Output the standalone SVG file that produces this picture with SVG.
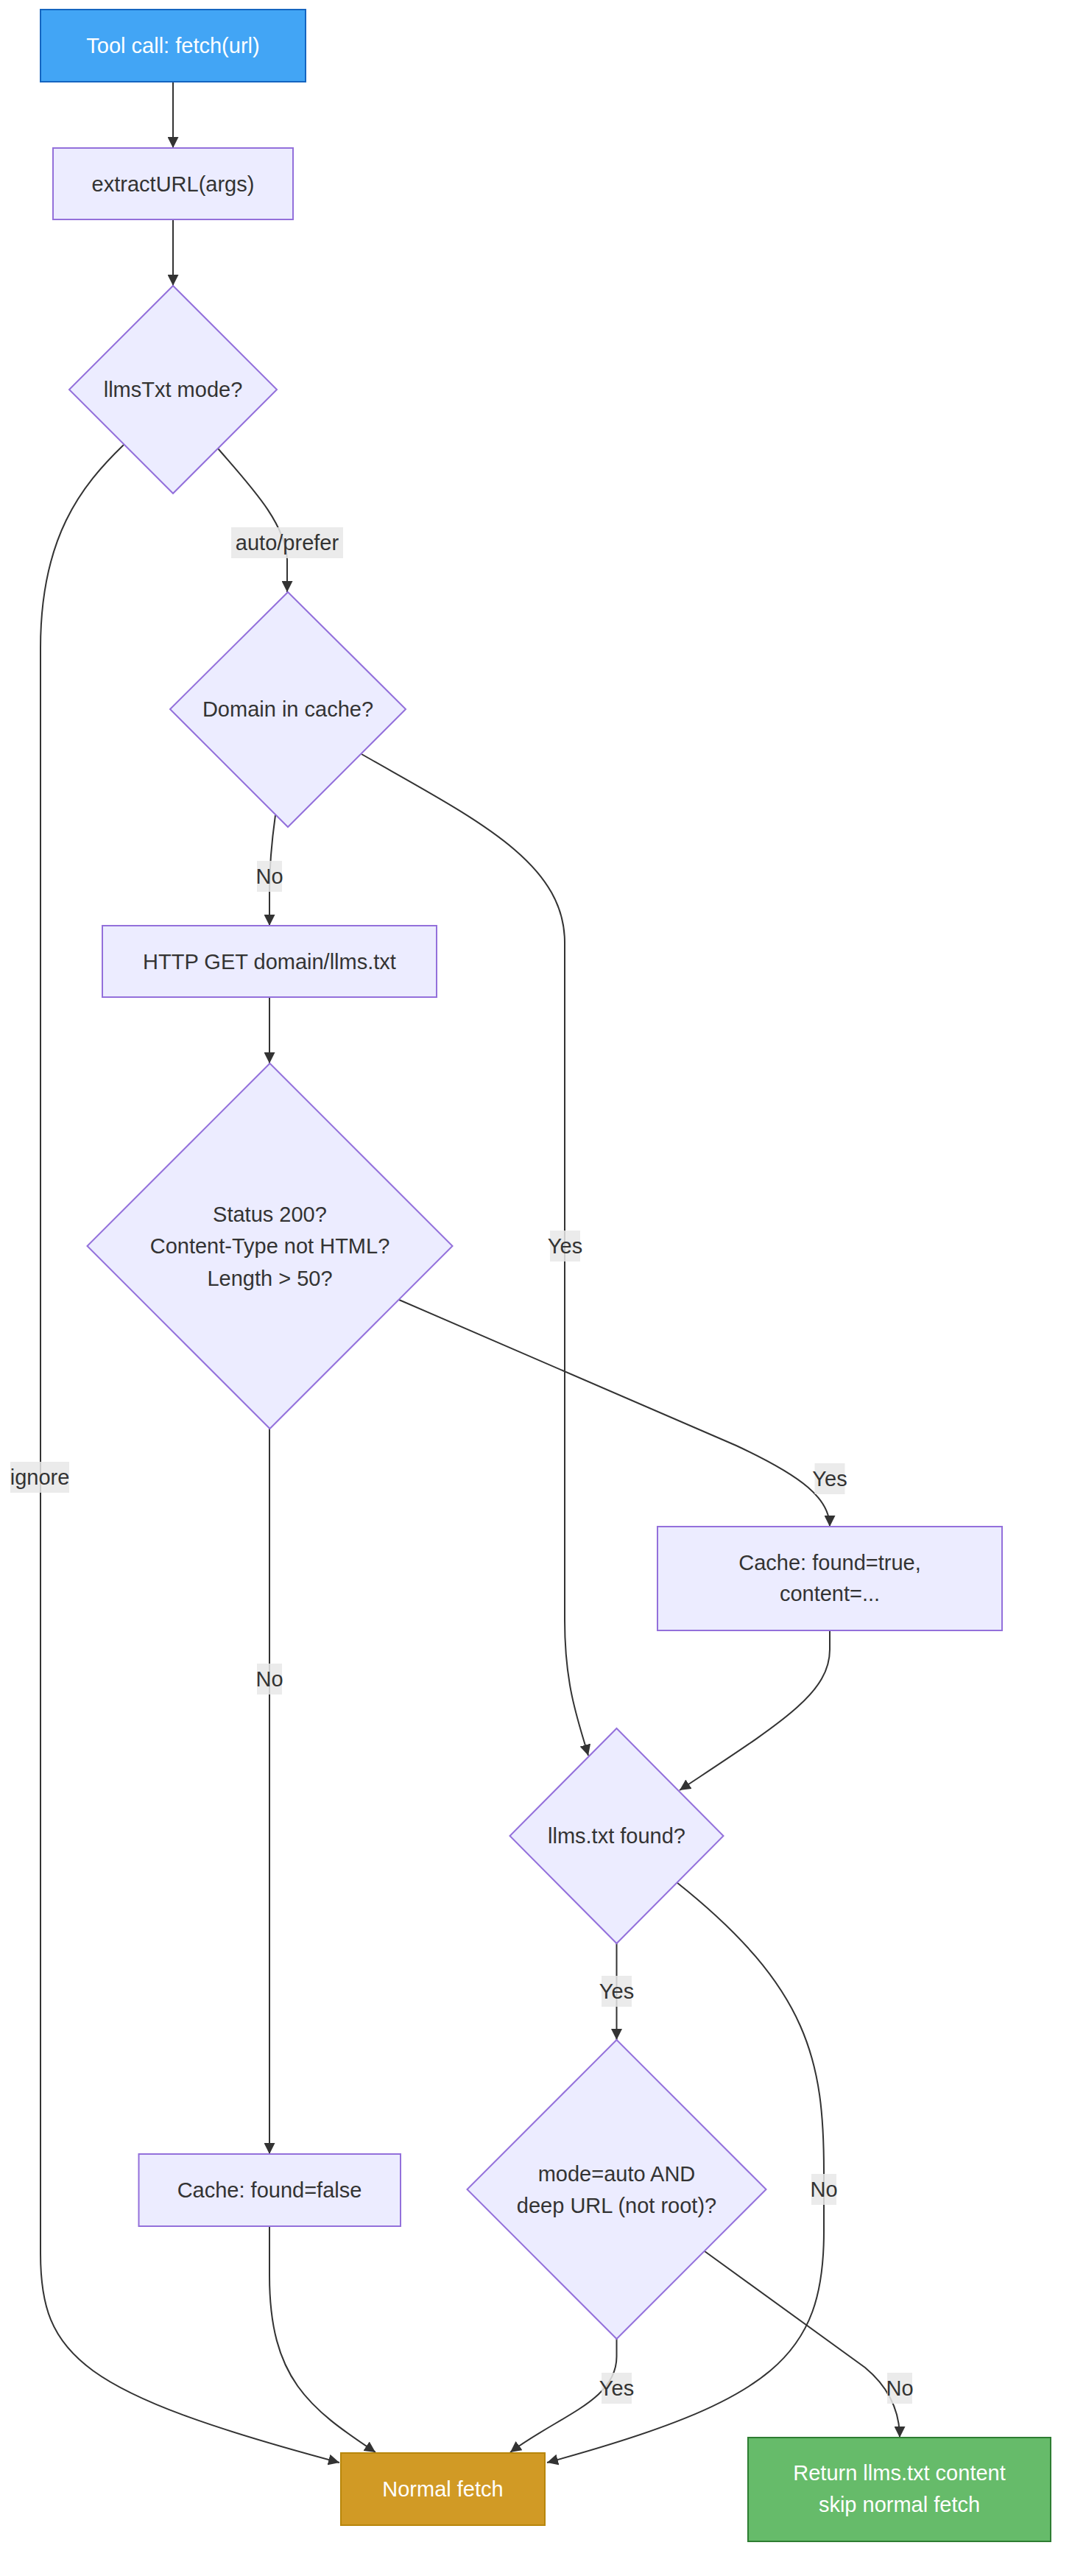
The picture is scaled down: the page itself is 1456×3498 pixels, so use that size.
<svg xmlns="http://www.w3.org/2000/svg" width="1456" height="3498" viewBox="0 0 1456 3498">
<style>
.node{fill:#ECECFF;stroke:#9370DB;stroke-width:2}
.t{font-family:"Liberation Sans",Arial,sans-serif;font-size:29px;fill:#333;text-anchor:middle}
.w{fill:#fff}
.edge{fill:none;stroke:#333;stroke-width:2;marker-end:url(#arrow)}
.lbl{fill:#E8E8E8;fill-opacity:0.85}
</style>
<defs>
<marker id="arrow" viewBox="0 0 10 10" refX="10" refY="5" markerUnits="userSpaceOnUse" markerWidth="15" markerHeight="15" orient="auto"><path d="M0,0 L10,5 L0,10 z" fill="#333"/></marker>
</defs>
<rect width="1456" height="3498" fill="#fff"/>
<g id="connectors">
<path class="edge" d="M235,111 L235,201"/>
<path class="edge" d="M235,298 L235,388"/>
<path class="edge" d="M296,609 C340,660 388,710 390,760 L390,804"/>
<path class="edge" d="M168,604 C110,660 55,730 55,880 L55,3060 C55,3200 110,3250 461,3344"/>
<path class="edge" d="M374,1107 C368,1150 366,1180 366,1210 L366,1257"/>
<path class="edge" d="M366,1354 L366,1444"/>
<path class="edge" d="M491,1024 C645,1112 767,1170 767,1280 L767,2200 C767,2290 785,2335 799,2384"/>
<path class="edge" d="M542,1765 L1000,1963 C1090,2005 1127,2035 1127,2073"/>
<path class="edge" d="M366,1940 L366,2925"/>
<path class="edge" d="M1127,2214 L1127,2240 C1127,2300 1060,2340 923,2431"/>
<path class="edge" d="M837.5,2639 L837.5,2770"/>
<path class="edge" d="M919,2556 C1100,2700 1119,2800 1119,2950 L1119,3030 C1119,3200 1050,3260 743,3344"/>
<path class="edge" d="M366,3023 L366,3090 C366,3230 420,3270 510,3330"/>
<path class="edge" d="M837.5,3176 L837.5,3200 C837.5,3260 760,3280 693,3330"/>
<path class="edge" d="M957,3057 L1175,3215 C1205,3240 1222,3270 1222,3310"/>
</g>
<g id="edge-labels">
<rect class="lbl" x="314" y="716" width="152" height="42"/><text class="t" x="390" y="747">auto/prefer</text>
<rect class="lbl" x="14" y="1985" width="80" height="42"/><text class="t" x="54" y="2016">ignore</text>
<rect class="lbl" x="349" y="1169" width="34" height="42"/><text class="t" x="366" y="1200">No</text>
<rect class="lbl" x="747" y="1671" width="41" height="42"/><text class="t" x="767.5" y="1702">Yes</text>
<rect class="lbl" x="1106.5" y="1987" width="41" height="42"/><text class="t" x="1127" y="2018">Yes</text>
<rect class="lbl" x="349" y="2259" width="34" height="42"/><text class="t" x="366" y="2290">No</text>
<rect class="lbl" x="817" y="2683" width="41" height="42"/><text class="t" x="837.5" y="2714">Yes</text>
<rect class="lbl" x="1102" y="2952" width="34" height="42"/><text class="t" x="1119" y="2983">No</text>
<rect class="lbl" x="817" y="3222" width="41" height="42"/><text class="t" x="837.5" y="3253">Yes</text>
<rect class="lbl" x="1205" y="3222" width="34" height="42"/><text class="t" x="1222" y="3253">No</text>
</g>
<g id="tool-call">
<rect x="55" y="13" width="360" height="98" fill="#42A5F5" stroke="#1565C0" stroke-width="2"/>
<text class="t w" x="235" y="72">Tool call: fetch(url)</text>
</g>
<g id="extract-url">
<rect class="node" x="72" y="201" width="326" height="97"/>
<text class="t" x="235" y="260">extractURL(args)</text>
</g>
<g id="llmstxt-mode">
<polygon class="node" points="235,388 376,529 235,670 94,529"/>
<text class="t" x="235" y="539">llmsTxt mode?</text>
</g>
<g id="domain-in-cache">
<polygon class="node" points="391,804 551,963 391,1123 231,963"/>
<text class="t" x="391" y="973">Domain in cache?</text>
</g>
<g id="http-get">
<rect class="node" x="139" y="1257" width="454" height="97"/>
<text class="t" x="366" y="1316">HTTP GET domain/llms.txt</text>
</g>
<g id="status-check">
<polygon class="node" points="366.5,1444 614.5,1692 366.5,1940 118.5,1692"/>
<text class="t" x="366.5" y="1659">Status 200?</text>
<text class="t" x="366.5" y="1702">Content-Type not HTML?</text>
<text class="t" x="366.5" y="1746">Length &gt; 50?</text>
</g>
<g id="cache-true">
<rect class="node" x="893" y="2073" width="468" height="141"/>
<text class="t" x="1127" y="2132">Cache: found=true,</text>
<text class="t" x="1127" y="2174">content=...</text>
</g>
<g id="llms-found">
<polygon class="node" points="837.5,2347 982.5,2493 837.5,2639 692.5,2493"/>
<text class="t" x="837.5" y="2503">llms.txt found?</text>
</g>
<g id="cache-false">
<rect class="node" x="188.5" y="2925" width="355.5" height="98"/>
<text class="t" x="366" y="2984">Cache: found=false</text>
</g>
<g id="mode-deep">
<polygon class="node" points="837.5,2770 1040.5,2973 837.5,3176 634.5,2973"/>
<text class="t" x="837.5" y="2962">mode=auto AND</text>
<text class="t" x="837.5" y="3005">deep URL (not root)?</text>
</g>
<g id="normal-fetch">
<rect x="463" y="3331" width="277" height="98" fill="#D19A25" stroke="#B8860B" stroke-width="2"/>
<text class="t w" x="601.5" y="3390">Normal fetch</text>
</g>
<g id="return-llms">
<rect x="1016" y="3310" width="411" height="141" fill="#66BB6A" stroke="#2E7D32" stroke-width="2"/>
<text class="t w" x="1221.5" y="3368">Return llms.txt content</text>
<text class="t w" x="1221.5" y="3411">skip normal fetch</text>
</g>
</svg>
